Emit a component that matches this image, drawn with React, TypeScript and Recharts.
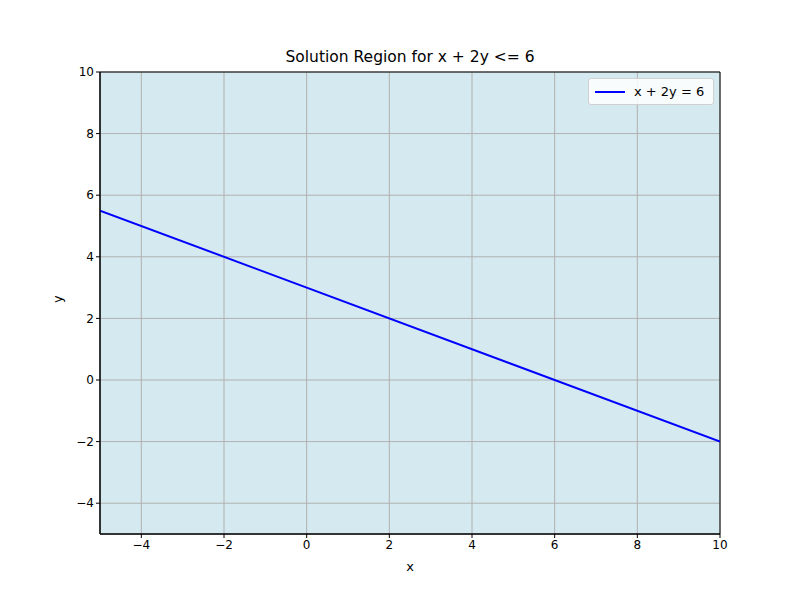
import React from "react";
import {
  LineChart,
  Line,
  XAxis,
  YAxis,
  CartesianGrid,
  ReferenceArea,
} from "recharts";

const xTicks = [-4, -2, 0, 2, 4, 6, 8, 10];
const yTicks = [-4, -2, 0, 2, 4, 6, 8, 10];
const lineXs = [-5, 10];
const lineYs = [5.5, -2];

const rows = lineXs.map((x, i) => ({ x, y: lineYs[i] }));
const font = "DejaVu Sans, sans-serif";
const tick = { fontSize: 12, fill: "#000", fontFamily: font };
const fmt = (v: number) => String(v).replace("-", "\u2212");

export default function App() {
  return (
    <div style={{ position: "absolute", left: 0, top: 0, width: 800, height: 600, background: "#fff", fontFamily: font }}>
      <div style={{ position: "absolute", top: 48, width: 820, textAlign: "center", fontSize: 15.5 }}>
        Solution Region for x + 2y &lt;= 6
      </div>
      <LineChart width={800} height={600} data={rows} margin={{ top: 72, right: 80, bottom: 36, left: 60 }}>
        <CartesianGrid stroke="#b0b0b0" fill="#d5eaf0" fillOpacity={1} />
        <XAxis
          dataKey="x"
          type="number"
          domain={[-5, 10]}
          ticks={xTicks}
          tick={tick}
          tickFormatter={fmt}
          tickSize={4}
          height={30}
          stroke="#000"
          allowDataOverflow
          label={{ value: "x", position: "insideBottom", offset: -7, fontSize: 13, fill: "#000", fontFamily: font }}
        />
        <YAxis
          type="number"
          domain={[-5, 10]}
          ticks={yTicks}
          tick={tick}
          tickFormatter={fmt}
          tickSize={4}
          width={40}
          stroke="#000"
          allowDataOverflow
          label={{ value: "y", angle: -90, position: "insideLeft", offset: -3, fontSize: 13, fill: "#000", fontFamily: font }}
        />
        <ReferenceArea x1={-5} x2={10} y1={-5} y2={10} fill="none" stroke="#000" strokeWidth={1} />
        <Line dataKey="y" stroke="#0000ff" strokeWidth={2} dot={false} isAnimationActive={false} />
      </LineChart>
      <div
        style={{
          position: "absolute", left: 588, top: 78, width: 124, height: 25,
          background: "rgba(255,255,255,0.85)", border: "1px solid #d0d0d0", borderRadius: 3,
          display: "flex", alignItems: "center", fontSize: 13,
        }}
      >
        <span style={{ display: "inline-block", width: 30, height: 2, background: "#0000ff", marginLeft: 6, marginRight: 9 }} />
        x + 2y = 6
      </div>
    </div>
  );
}
